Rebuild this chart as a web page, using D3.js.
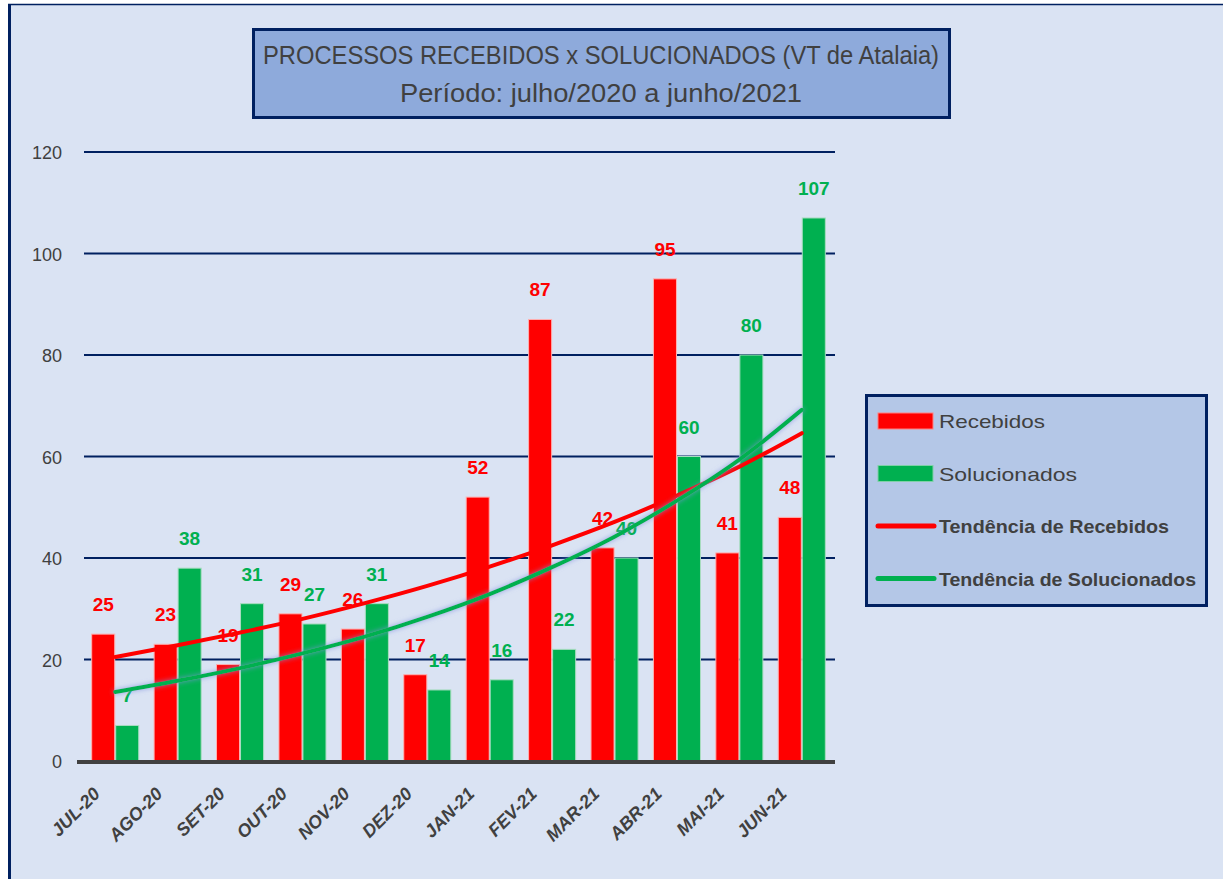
<!DOCTYPE html>
<html>
<head>
<meta charset="utf-8">
<title>Processos recebidos x solucionados</title>
<script src="https://cdn.jsdelivr.net/npm/d3@7"></script>
<style>
  body { margin: 0; background: #fff; }
  text { font-family: "Liberation Sans", "DejaVu Sans", sans-serif; }
</style>
</head>
<body>
<svg width="1223" height="879"></svg>
<script>

var months = ["JUL-20", "AGO-20", "SET-20", "OUT-20", "NOV-20", "DEZ-20",
              "JAN-21", "FEV-21", "MAR-21", "ABR-21", "MAI-21", "JUN-21"];
var recebidos = [25, 23, 19, 29, 26, 17, 52, 87, 42, 95, 41, 48];
var solucionados = [7, 38, 31, 27, 31, 14, 16, 22, 40, 60, 80, 107];
// trend lines
var trendRecebidos = [20.5, 22.8, 25.3, 28.0, 31.1, 34.5, 38.3, 42.5, 47.1, 52.3, 58.0, 64.6];
var trendSolucionados = [13.6, 15.8, 18.3, 21.2, 24.5, 28.4, 32.9, 38.2, 44.2, 51.3, 59.4, 69.2];
var yTicks = [0, 20, 40, 60, 80, 100, 120];
var titleLines = ["PROCESSOS RECEBIDOS x SOLUCIONADOS (VT de Atalaia)",
                  "Período: julho/2020 a junho/2021"];

var red = "#ff0000", green = "#00b050", navy = "#002060", grey = "#404040";

var svg = d3.select("svg");

// background + frame
svg.append("rect").attr("x", 9).attr("y", 4).attr("width", 1214).attr("height", 875)
  .attr("fill", "#dae3f3");
svg.append("line").attr("x1", 8).attr("x2", 1223).attr("y1", 4.5).attr("y2", 4.5)
  .attr("stroke", navy).attr("stroke-width", 1.5);
svg.append("line").attr("x1", 9.5).attr("x2", 9.5).attr("y1", 4).attr("y2", 879)
  .attr("stroke", navy).attr("stroke-width", 3);

var defs = svg.append("defs");
var glow = defs.append("filter").attr("id", "glow")
  .attr("x", "-10%").attr("y", "-50%").attr("width", "120%").attr("height", "200%");
glow.append("feGaussianBlur").attr("in", "SourceAlpha").attr("stdDeviation", 2.5).attr("result", "b");
glow.append("feFlood").attr("flood-color", "#7f8fdf").attr("flood-opacity", 0.8);
glow.append("feComposite").attr("in2", "b").attr("operator", "in").attr("result", "s");
var mg = glow.append("feMerge");
mg.append("feMergeNode").attr("in", "s");
mg.append("feMergeNode").attr("in", "SourceGraphic");

// title box
svg.append("rect").attr("x", 253.5).attr("y", 29.5).attr("width", 696).attr("height", 88)
  .attr("fill", "#8eaadb").attr("stroke", navy).attr("stroke-width", 3);
svg.selectAll(".title").data(titleLines).enter().append("text")
  .attr("x", 601).attr("y", function(d, i) { return 64 + i * 38; })
  .attr("text-anchor", "middle")
  .attr("font-size", 26).attr("fill", grey)
  .attr("textLength", function(d, i) { return i === 0 ? 676 : 402; })
  .attr("lengthAdjust", "spacingAndGlyphs")
  .text(function(d) { return d; });

// scales
var x = d3.scaleBand().domain(months).range([84, 833]).paddingInner(0).paddingOuter(0);
var sub = d3.scaleBand().domain(["r", "s"]).range([0, x.bandwidth()]).paddingInner(0.04).paddingOuter(0.32);
var y = d3.scaleLinear().domain([0, 120]).range([761, 152]);

// gridlines
svg.append("g").selectAll("line").data(yTicks.slice(1)).enter().append("line")
  .attr("x1", 84).attr("x2", 835)
  .attr("y1", function(d) { return y(d); }).attr("y2", function(d) { return y(d); })
  .attr("stroke", navy).attr("stroke-width", 2);

// y labels
svg.append("g").selectAll("text").data(yTicks).enter().append("text")
  .attr("x", 62).attr("y", function(d) { return y(d) + 7; })
  .attr("text-anchor", "end").attr("font-size", 18).attr("fill", grey)
  .attr("font-family", "DejaVu Sans")
  .text(function(d) { return d; });

// bars
var rows = months.map(function(m, i) {
  return { m: m, r: recebidos[i], s: solucionados[i] };
});
var g = svg.append("g").selectAll("g").data(rows).enter().append("g")
  .attr("transform", function(d) { return "translate(" + x(d.m) + ",0)"; });

g.append("rect")
  .attr("x", sub("r")).attr("width", sub.bandwidth())
  .attr("y", function(d) { return y(d.r); })
  .attr("height", function(d) { return y(0) - y(d.r); })
  .attr("fill", red).attr("stroke", "#ffb0b0").attr("stroke-width", 1);
g.append("rect")
  .attr("x", sub("s")).attr("width", sub.bandwidth())
  .attr("y", function(d) { return y(d.s); })
  .attr("height", function(d) { return y(0) - y(d.s); })
  .attr("fill", green).attr("stroke", "#a8dcc0").attr("stroke-width", 1);

// x axis line
svg.append("line").attr("x1", 77).attr("x2", 835).attr("y1", y(0) + 1).attr("y2", y(0) + 1)
  .attr("stroke", grey).attr("stroke-width", 4);

// trend lines
var line = d3.line()
  .x(function(d, i) { return x(months[i]) + x.bandwidth() / 2; })
  .y(function(d) { return y(d); })
  .curve(d3.curveMonotoneX);

svg.append("path").datum(trendRecebidos).attr("d", line)
  .attr("fill", "none").attr("stroke", red).attr("stroke-width", 4)
  .attr("stroke-linecap", "round");
svg.append("path").datum(trendSolucionados).attr("d", line)
  .attr("fill", "none").attr("stroke", green).attr("stroke-width", 4)
  .attr("stroke-linecap", "round").attr("filter", "url(#glow)");

// data labels
g.append("text")
  .attr("x", sub("r") + sub.bandwidth() / 2)
  .attr("y", function(d) { return y(d.r) - 23; })
  .attr("text-anchor", "middle").attr("font-size", 19).attr("font-weight", "bold")
  .attr("fill", red).text(function(d) { return d.r; });
g.append("text")
  .attr("x", sub("s") + sub.bandwidth() / 2)
  .attr("y", function(d) { return y(d.s) - 23; })
  .attr("text-anchor", "middle").attr("font-size", 19).attr("font-weight", "bold")
  .attr("fill", green).text(function(d) { return d.s; });

// x labels
svg.append("g").selectAll("text").data(months).enter().append("text")
  .attr("transform", function(d) {
    return "translate(" + (x(d) + x.bandwidth() / 2 - 14) + ",795) rotate(-45)";
  })
  .attr("text-anchor", "end").attr("font-size", 18).attr("font-style", "italic")
  .attr("font-weight", "bold").attr("fill", grey)
  .text(function(d) { return d; });

// legend
svg.append("rect").attr("x", 866.5).attr("y", 395.5).attr("width", 340).attr("height", 210)
  .attr("fill", "#b4c7e7").attr("stroke", navy).attr("stroke-width", 3);
var legendItems = [
  { label: "Recebidos", color: red, type: "bar" },
  { label: "Solucionados", color: green, type: "bar" },
  { label: "Tendência de Recebidos", color: red, type: "line" },
  { label: "Tendência de Solucionados", color: green, type: "line" }
];
var lg = svg.append("g").selectAll("g").data(legendItems).enter().append("g")
  .attr("transform", function(d, i) { return "translate(877," + (421 + i * 52.5) + ")"; });
lg.filter(function(d) { return d.type === "bar"; }).append("rect")
  .attr("x", 1).attr("y", -8).attr("width", 55).attr("height", 16)
  .attr("fill", function(d) { return d.color; })
  .attr("stroke", function(d) { return d.color === red ? "#ff8080" : "#80d0a8"; })
  .attr("stroke-width", 1);
lg.filter(function(d) { return d.type === "line"; }).append("line")
  .attr("x1", 1).attr("x2", 57).attr("y1", 0).attr("y2", 0)
  .attr("stroke", function(d) { return d.color; }).attr("stroke-width", 5)
  .attr("stroke-linecap", "round");
lg.append("text").attr("x", 62).attr("y", 7)
  .attr("font-size", 19).attr("fill", grey)
  .attr("font-weight", function(d) { return d.type === "line" ? "bold" : "normal"; })
  .attr("textLength", function(d, i) { return [106, 138, 230, 257][i]; })
  .attr("lengthAdjust", "spacingAndGlyphs")
  .text(function(d) { return d.label; });

</script>
</body>
</html>
